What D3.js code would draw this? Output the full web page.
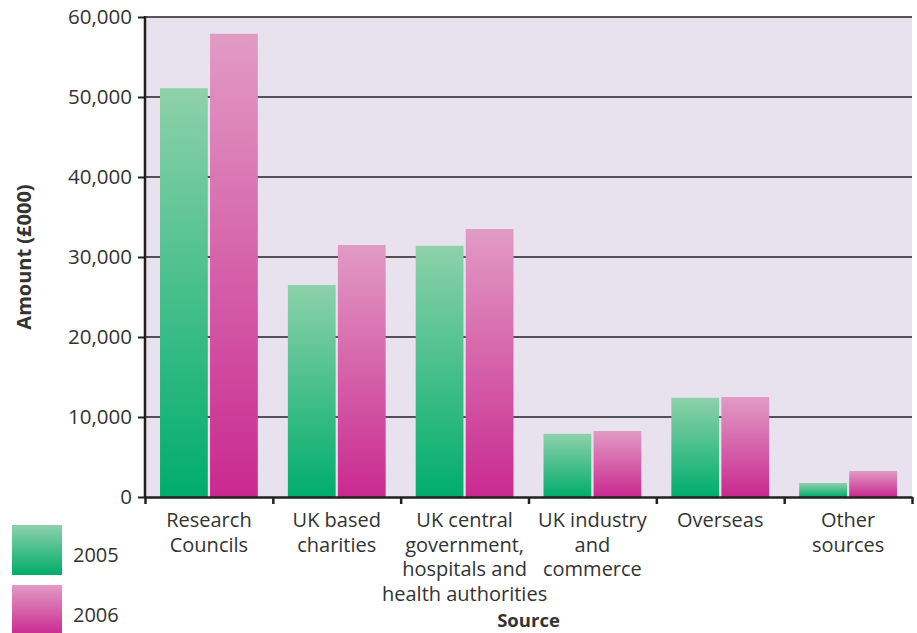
<!DOCTYPE html>
<html lang="en">
<head>
    <meta charset="UTF-8">
    <title>Amount by source</title>
    <script src="https://cdn.jsdelivr.net/npm/d3@7/dist/d3.min.js"></script>
    <style>
        body{margin: 0; background: #fff}
        svg text{font-family: "Open Sans", "Noto Sans", sans-serif; fill: #333}
    </style>
</head>
<body>
    <svg></svg>
    <script>
        var categories = [
            ['Research', 'Councils'],
            ['UK based', 'charities'],
            ['UK central', 'government,', 'hospitals and', 'health authorities'],
            ['UK industry', 'and', 'commerce'],
            ['Overseas'],
            ['Other', 'sources']
        ]
        var years = ['2005', '2006']
        var values2005 = [51100, 26500, 31400, 7900, 12400, 1750]
        var values2006 = [57900, 31500, 33500, 8250, 12500, 3250]
        var yTicks = [0, 10000, 20000, 30000, 40000, 50000, 60000]

        var width = 917, height = 633
        var margin = {left: 145, right: 5, top: 17, bottom: 136}
        var chartWidth = width - margin.left - margin.right
        var chartHeight = height - margin.top - margin.bottom

        var svg = d3.select('svg')
            .attr('width', width)
            .attr('height', height)

        // gradients, one per series, fitted to each bar
        var colors = {
            '2005': ['#8ed1ab', '#00ad6b'],
            '2006': ['#e29bc5', '#c9298f']
        }
        var defs = svg.append('defs')
        years.forEach(y => {
            var g = defs.append('linearGradient')
                .attr('id', 'grad' + y)
                .attr('x1', 0).attr('y1', 0).attr('x2', 0).attr('y2', 1)
            g.append('stop').attr('offset', '0%').attr('stop-color', colors[y][0])
            g.append('stop').attr('offset', '100%').attr('stop-color', colors[y][1])
        })

        var x = d3.scaleBand()
            .domain(d3.range(categories.length))
            .range([0, chartWidth])
            .paddingInner(0.235)
            .paddingOuter(0.1175)
        var xSub = d3.scaleBand()
            .domain(years)
            .range([0, x.bandwidth()])
            .paddingInner(0.045)
        var y = d3.scaleLinear()
            .domain([0, 60000])
            .range([chartHeight, 0])

        var chart = svg.append('g')
            .attr('transform', `translate(${margin.left}, ${margin.top})`)

        // plot background
        chart.append('rect')
            .attr('width', chartWidth)
            .attr('height', chartHeight)
            .attr('fill', '#e8e2ef')

        // gridlines
        chart.append('g')
            .selectAll('line')
            .data(yTicks.filter(d => d > 0))
            .enter()
            .append('line')
            .attr('x1', 0)
            .attr('x2', chartWidth)
            .attr('y1', d => y(d))
            .attr('y2', d => y(d))
            .attr('stroke', '#231f20')
            .attr('stroke-width', 1.4)

        // bars
        var rows = categories.map((c, i) => ({i: i, vals: [values2005[i], values2006[i]]}))
        var groups = chart.selectAll('.group')
            .data(rows)
            .enter()
            .append('g')
            .attr('class', 'group')
            .attr('transform', d => `translate(${x(d.i)}, 0)`)
        groups.selectAll('rect')
            .data(d => d.vals.map((v, k) => ({year: years[k], value: v})))
            .enter()
            .append('rect')
            .attr('x', d => xSub(d.year))
            .attr('width', xSub.bandwidth())
            .attr('y', d => y(d.value))
            .attr('height', d => chartHeight - y(d.value))
            .attr('fill', d => `url(#grad${d.year})`)

        // y axis
        var yAxis = d3.axisLeft(y)
            .tickValues(yTicks)
            .tickFormat(d3.format(','))
            .tickSize(7)
            .tickPadding(6)
        var yg = chart.append('g').call(yAxis)
        yg.select('.domain').remove()
        yg.selectAll('.tick line').attr('stroke', '#231f20').attr('stroke-width', 2)
        yg.selectAll('.tick text').style('font-size', '20.5px').attr('fill', '#333')
        chart.append('line')
            .attr('x1', 0).attr('x2', 0)
            .attr('y1', -1).attr('y2', chartHeight + 1)
            .attr('stroke', '#231f20')
            .attr('stroke-width', 2.5)

        // x axis with ticks on band edges
        var xEdge = d3.scaleLinear().domain([0, categories.length]).range([0, chartWidth])
        var xAxis = d3.axisBottom(xEdge)
            .ticks(categories.length)
            .tickFormat('')
            .tickSizeInner(7)
            .tickSizeOuter(0)
        var xg = chart.append('g')
            .attr('transform', `translate(0, ${chartHeight})`)
            .call(xAxis)
        xg.select('.domain').attr('stroke', '#231f20').attr('stroke-width', 2.5)
        xg.selectAll('.tick line').attr('stroke', '#231f20').attr('stroke-width', 2.5)

        // category labels
        var labels = chart.append('g')
            .selectAll('text')
            .data(categories)
            .enter()
            .append('text')
            .attr('text-anchor', 'middle')
            .attr('x', (d, i) => x(i) + x.bandwidth() / 2)
            .attr('y', chartHeight + 30)
            .style('font-size', '20px')
        labels.selectAll('tspan')
            .data(d => d)
            .enter()
            .append('tspan')
            .attr('x', function() { return this.parentNode.getAttribute('x') })
            .attr('dy', (d, i) => i === 0 ? 0 : 24.5)
            .text(d => d)

        // axis titles
        svg.append('text')
            .attr('x', margin.left + chartWidth / 2)
            .attr('y', 627)
            .attr('text-anchor', 'middle')
            .style('font-size', '18.5px')
            .style('font-weight', 'bold')
            .text('Source')
        svg.append('text')
            .attr('transform', `translate(31, ${margin.top + chartHeight / 2}) rotate(-90)`)
            .attr('text-anchor', 'middle')
            .style('font-size', '20px')
            .style('font-weight', 'bold')
            .text('Amount (£000)')

        // legend
        var legend = svg.append('g')
            .selectAll('g')
            .data(years)
            .enter()
            .append('g')
            .attr('transform', (d, i) => `translate(12, ${525 + i * 60})`)
        legend.append('rect')
            .attr('width', 50)
            .attr('height', 50)
            .attr('fill', d => `url(#grad${d})`)
        legend.append('text')
            .attr('x', 61)
            .attr('y', 37)
            .style('font-size', '20px')
            .text(d => d)
    </script>
</body>
</html>
